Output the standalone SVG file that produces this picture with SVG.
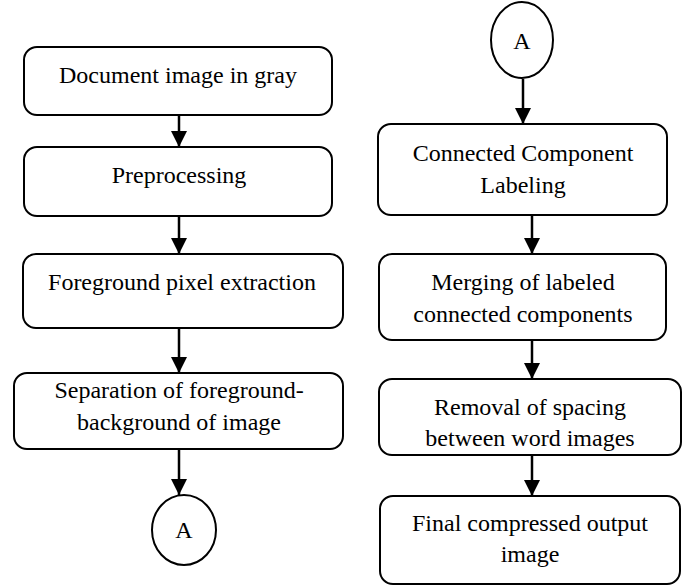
<svg xmlns="http://www.w3.org/2000/svg" width="688" height="585" viewBox="0 0 688 585">
<defs>
<style>
.box{fill:#fff;stroke:#000;stroke-width:2}
.t{font-family:'Liberation Serif','Times New Roman',serif;font-size:24px;fill:#000;text-anchor:middle}
.c{stroke:#000;stroke-width:2.5;fill:none}
</style>
<marker id="ah" markerUnits="userSpaceOnUse" markerWidth="16" markerHeight="16" refX="16" refY="8" orient="auto">
<path d="M0,0 L16,8 L0,16 z" fill="#000"/>
</marker>
</defs>
<rect width="688" height="585" fill="#fff"/>
<g id="connectors">
<line class="c" x1="179" y1="115" x2="179" y2="147" marker-end="url(#ah)"/>
<line class="c" x1="179" y1="216" x2="179" y2="254" marker-end="url(#ah)"/>
<line class="c" x1="179" y1="328" x2="179" y2="373" marker-end="url(#ah)"/>
<line class="c" x1="179" y1="449" x2="179" y2="495" marker-end="url(#ah)"/>
<line class="c" x1="523" y1="79" x2="523" y2="124" marker-end="url(#ah)"/>
<line class="c" x1="532" y1="215" x2="532" y2="254" marker-end="url(#ah)"/>
<line class="c" x1="532" y1="340" x2="532" y2="379" marker-end="url(#ah)"/>
<line class="c" x1="532" y1="455" x2="532" y2="496" marker-end="url(#ah)"/>
</g>
<g id="n1"><rect class="box" x="24" y="47" width="308" height="68" rx="13"/><text class="t" x="178" y="83">Document image in gray</text></g>
<g id="n2"><rect class="box" x="24" y="147" width="308" height="69" rx="13"/><text class="t" x="179" y="183">Preprocessing</text></g>
<g id="n3"><rect class="box" x="23" y="254" width="320" height="74" rx="13"/><text class="t" x="182" y="290">Foreground pixel extraction</text></g>
<g id="n4"><rect class="box" x="14" y="373" width="329" height="76" rx="13"/><text class="t" x="179" y="398">Separation of foreground-</text><text class="t" x="179" y="430">background of image</text></g>
<g id="a1"><ellipse class="box" cx="184" cy="530" rx="32" ry="35"/><text class="t" x="184" y="538">A</text></g>
<g id="a2"><ellipse class="box" cx="522" cy="40" rx="31" ry="38"/><text class="t" x="522" y="49">A</text></g>
<g id="n5"><rect class="box" x="378" y="124" width="289" height="91" rx="13"/><text class="t" x="523" y="161">Connected Component</text><text class="t" x="523" y="193">Labeling</text></g>
<g id="n6"><rect class="box" x="379" y="254" width="287" height="86" rx="13"/><text class="t" x="523" y="290">Merging of labeled</text><text class="t" x="523" y="322">connected components</text></g>
<g id="n7"><rect class="box" x="379" y="379" width="302" height="76" rx="13"/><text class="t" x="530" y="415">Removal of spacing</text><text class="t" x="530" y="446">between word images</text></g>
<g id="n8"><rect class="box" x="380" y="496" width="300" height="88" rx="13"/><text class="t" x="530" y="531">Final compressed output</text><text class="t" x="530" y="562">image</text></g>
</svg>
